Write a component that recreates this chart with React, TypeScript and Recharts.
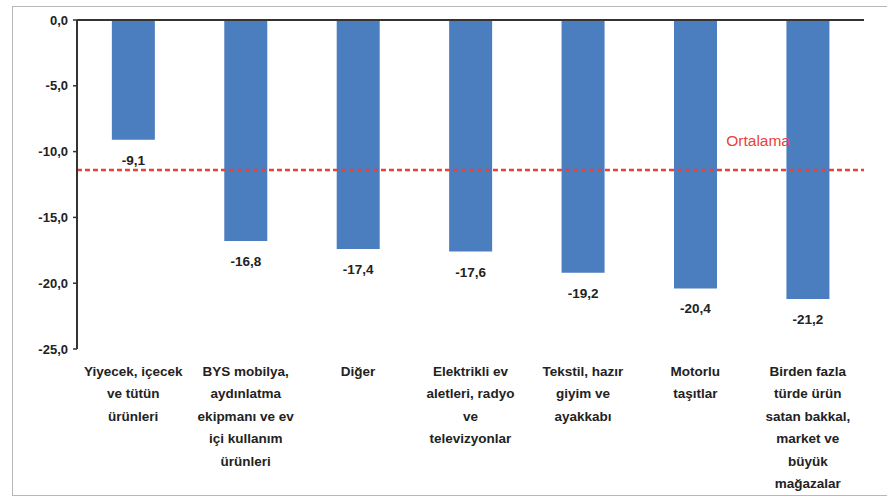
import { BarChart, Bar, XAxis, YAxis, ReferenceLine, LabelList } from 'recharts';

const categories = [
  'Yiyecek, içecek\nve tütün\nürünleri',
  'BYS mobilya,\naydınlatma\nekipmanı ve ev\niçi kullanım\nürünleri',
  'Diğer',
  'Elektrikli ev\naletleri, radyo\nve\ntelevizyonlar',
  'Tekstil, hazır\ngiyim ve\nayakkabı',
  'Motorlu\ntaşıtlar',
  'Birden fazla\ntürde ürün\nsatan bakkal,\nmarket ve\nbüyük\nmağazalar',
];
const values = [-9.1, -16.8, -17.4, -17.6, -19.2, -20.4, -21.2];
const yTicks = [0, -5, -10, -15, -20, -25];
const average = -11.4;
const averageLabel = 'Ortalama';

const data = categories.map((name, i) => ({ name, value: values[i] }));

const FONT = '"Liberation Sans", Arial, sans-serif';
const fmt = (v: number) => v.toFixed(1).replace('.', ',');

function CategoryTick({ x, y, payload }: any) {
  const lines = String(payload.value).split('\n');
  return (
    <text x={x} y={y} textAnchor="middle" fontSize={13.5} fontWeight="bold" fill="#222" fontFamily={FONT}>
      {lines.map((l, i) => (
        <tspan key={i} x={x} dy={i === 0 ? 19 : 22.4}>
          {l}
        </tspan>
      ))}
    </text>
  );
}

const renderValueLabel = (props: any) => {
  const { x, y, width, height, value } = props;
  const bottom = Math.max(y, y + height);
  return (
    <text x={x + width / 2} y={bottom + 25} textAnchor="middle" fontSize={13.5} fontWeight="bold" fill="#222" fontFamily={FONT}>
      {fmt(value)}
    </text>
  );
};

const renderAverageLabel = (props: any) => {
  const { viewBox } = props;
  return (
    <text x={viewBox.x + viewBox.width - 74} y={viewBox.y - 24} textAnchor="end" fontSize={15.5} fill="#e8423a" fontFamily={FONT}>
      {averageLabel}
    </text>
  );
};

export default function App() {
  return (
    <div style={{ position: 'absolute', left: 0, top: 0, width: 887, height: 499, background: '#fff' }}>
      <div
        style={{
          position: 'absolute',
          left: 12,
          top: 6,
          width: 880,
          height: 490,
          border: '1px solid #b8b8b8',
          boxSizing: 'border-box',
        }}
      />
      <div style={{ position: 'absolute', left: 0, top: 0 }}>
        <BarChart width={887} height={499} data={data} margin={{ top: 20, right: 23, left: 0, bottom: 0 }} barCategoryGap="31%">
          <XAxis
            dataKey="name"
            height={150}
            axisLine={false}
            tickLine={false}
            interval={0}
            tick={<CategoryTick />}
          />
          <YAxis
            width={77}
            domain={[-25, 0]}
            ticks={yTicks}
            tickFormatter={fmt}
            axisLine={{ stroke: '#333', strokeWidth: 2 }}
            tickLine={{ stroke: '#333', strokeWidth: 1.5 }}
            tickSize={4}
            tickMargin={5}
            tick={{ fontSize: 13, fontWeight: 'bold', fill: '#222', fontFamily: FONT }}
          />
          <ReferenceLine y={0} stroke="#333" strokeWidth={2} />
          <Bar dataKey="value" fill="#4a7ebf" isAnimationActive={false}>
            <LabelList dataKey="value" content={renderValueLabel} />
          </Bar>
          <ReferenceLine
            y={average}
            stroke="#e8423a"
            strokeWidth={2.5}
            strokeDasharray="5 3"
            label={renderAverageLabel}
          />
        </BarChart>
      </div>
    </div>
  );
}
